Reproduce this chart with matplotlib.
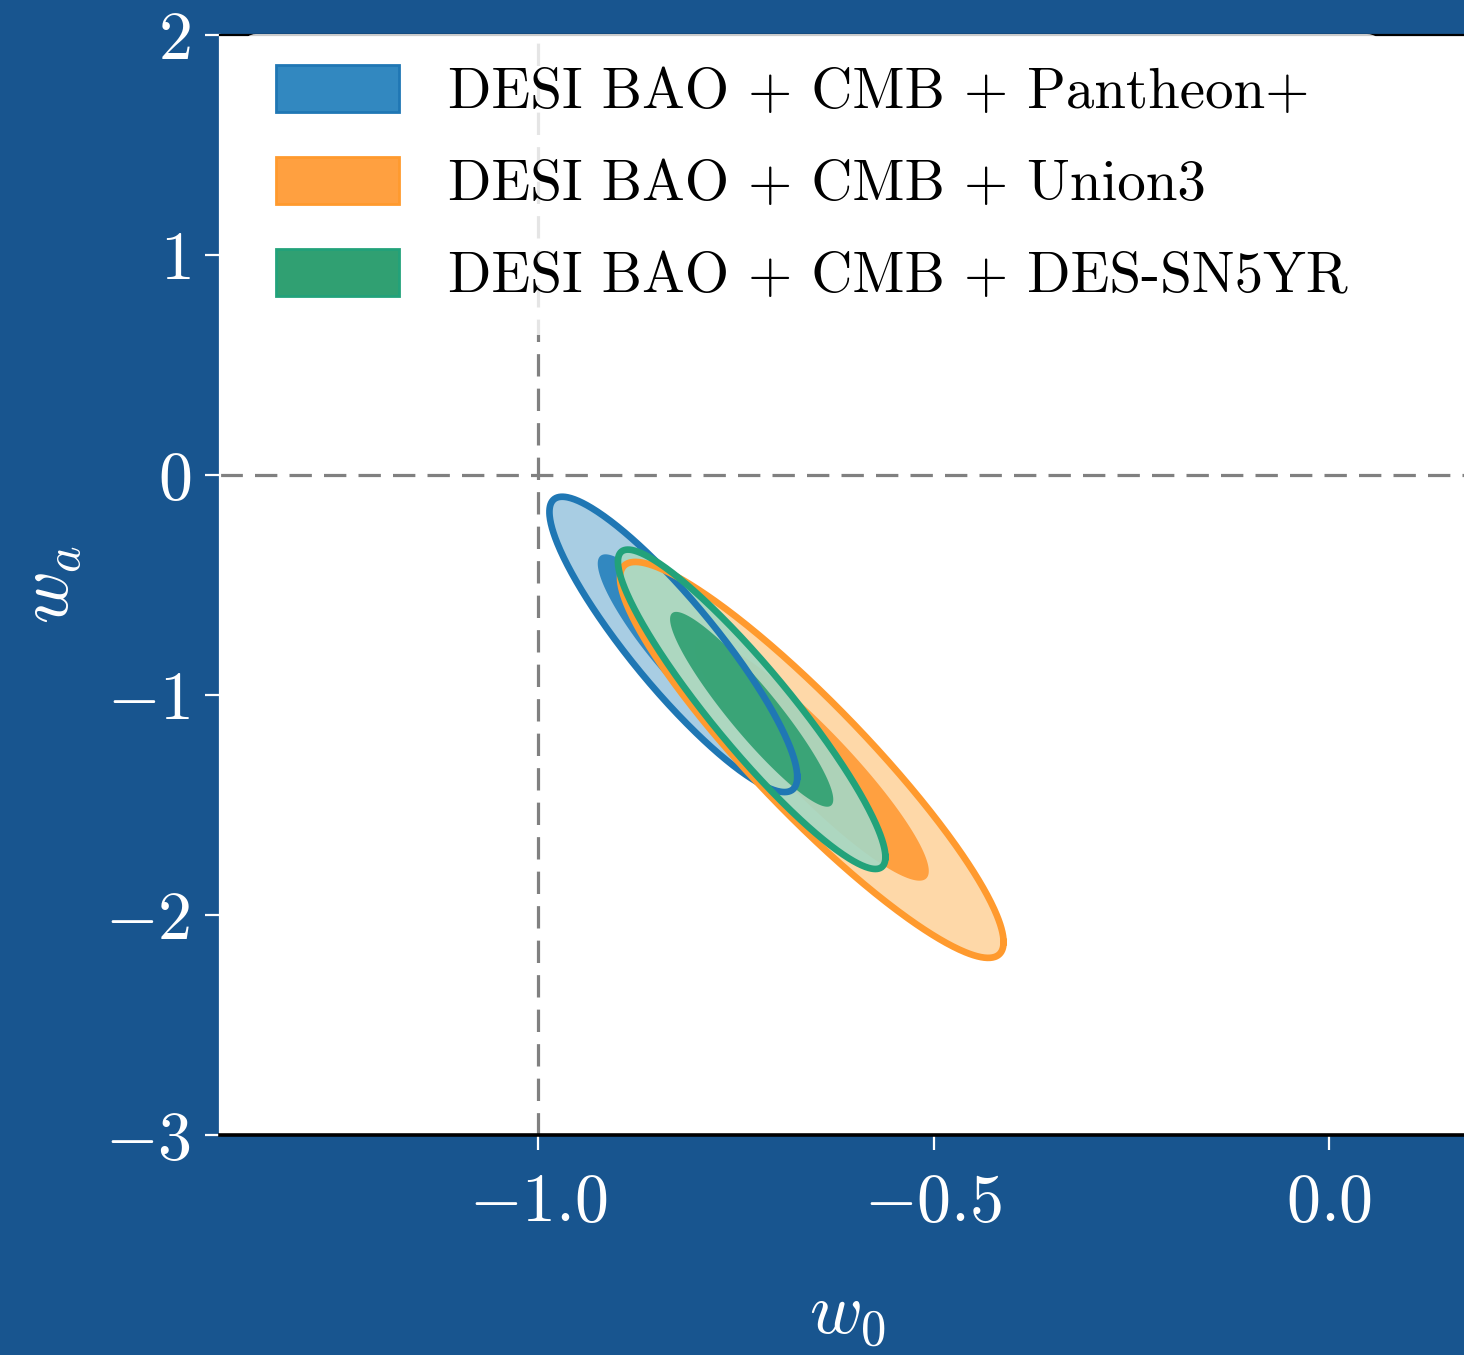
import numpy as np
import matplotlib
matplotlib.use("Agg")
import matplotlib.pyplot as plt
from matplotlib.patches import Patch

# ---------------- data ----------------
labels = ["DESI BAO + CMB + Pantheon+",
          "DESI BAO + CMB + Union3",
          "DESI BAO + CMB + DES-SN5YR"]
w0_mean = [-0.829, -0.654, -0.730]
wa_mean = [-0.770, -1.295, -1.065]
w0_sigma = [0.063, 0.0975, 0.068]
wa_sigma = [0.270, 0.362, 0.292]
rho = [-0.897, -0.920, -0.925]
delta_chi2 = [6.18, 2.30]          # 95% and 68% contours
ref_w0 = -1.0
ref_wa = 0.0
x_ticks = [-1.0, -0.5, 0.0]
y_ticks = [-3, -2, -1, 0, 1, 2]

# ---------------- style ----------------
plt.rcParams["font.family"] = "serif"
plt.rcParams["font.serif"] = ["cmr10"]
plt.rcParams["mathtext.fontset"] = "cm"
plt.rcParams["axes.formatter.use_mathtext"] = True

bg = "#18558f"
line_colors = ["#1f77b4", "#ff9a2e", "#22a27a"]
light_colors = ["#a8cde3", "#fed8a8", "#a6d7c3"]
dark_colors = ["#3288c0", "#ffa040", "#30a072"]
fill_alpha = [1.0, 1.0, 0.92]

fig = plt.figure(figsize=(14.64, 13.55), dpi=100, facecolor=bg)
ax = fig.add_axes([220 / 1464, 1 - 1135 / 1355, 1254 / 1464, 1100 / 1355])
ax.set_facecolor("white")
ax.set_xlim(-1.402, 0.183)
ax.set_ylim(-3, 2)

t = np.linspace(0, 2 * np.pi, 500)
circle = np.vstack([np.cos(t), np.sin(t)])


def contour(i, chi2):
    cov = np.array([[w0_sigma[i] ** 2, rho[i] * w0_sigma[i] * wa_sigma[i]],
                    [rho[i] * w0_sigma[i] * wa_sigma[i], wa_sigma[i] ** 2]])
    L = np.linalg.cholesky(cov)
    pts = np.sqrt(chi2) * (L @ circle)
    return pts[0] + w0_mean[i], pts[1] + wa_mean[i]


z = 2
for i in range(len(labels)):
    xo, yo = contour(i, delta_chi2[0])
    ax.fill(xo, yo, facecolor=light_colors[i], edgecolor="none",
            alpha=fill_alpha[i], zorder=z)
    xi, yi = contour(i, delta_chi2[1])
    ax.fill(xi, yi, facecolor=dark_colors[i], edgecolor="none",
            alpha=fill_alpha[i], zorder=z + 0.5)
    z += 1
for i in range(len(labels)):
    xo, yo = contour(i, delta_chi2[0])
    ax.plot(xo, yo, color=line_colors[i], lw=4.8, zorder=10 + i)

ax.axvline(ref_w0, color="#808080", lw=2.3, ls=(0, (7, 3.8)), zorder=1)
ax.axhline(ref_wa, color="#808080", lw=2.3, ls=(0, (7, 3.8)), zorder=1)

ax.set_xticks(x_ticks)
ax.set_yticks(y_ticks)
ax.tick_params(axis="both", colors="white", labelsize=49, length=11,
               width=1.6, direction="out")
ax.tick_params(axis="x", pad=16)
ax.tick_params(axis="y", pad=10)
ax.spines["right"].set_visible(False)
ax.spines["left"].set_color("white")
ax.spines["left"].set_linewidth(1.6)
ax.spines["top"].set_color("black")
ax.spines["top"].set_linewidth(1.6)
ax.spines["bottom"].set_color("black")
ax.spines["bottom"].set_linewidth(2.6)

ax.set_xlabel(r"$w_0$", fontsize=52, color="white", labelpad=36)
ax.set_ylabel(r"$w_a$", fontsize=52, color="white", labelpad=15)

handles = [Patch(facecolor=dark_colors[i], edgecolor=line_colors[i], lw=2)
           for i in range(len(labels))]
leg = ax.legend(handles, labels, loc="upper left",
                bbox_to_anchor=(0.0200, 1.001), borderaxespad=0,
                fontsize=41, frameon=True, framealpha=0.8,
                facecolor="white", edgecolor="none",
                handlelength=2.15, handleheight=0.9, handletextpad=0.86,
                labelspacing=0.66, borderpad=0.55)
leg.set_zorder(20)

fig.savefig("out.png", dpi=100, facecolor=bg)
